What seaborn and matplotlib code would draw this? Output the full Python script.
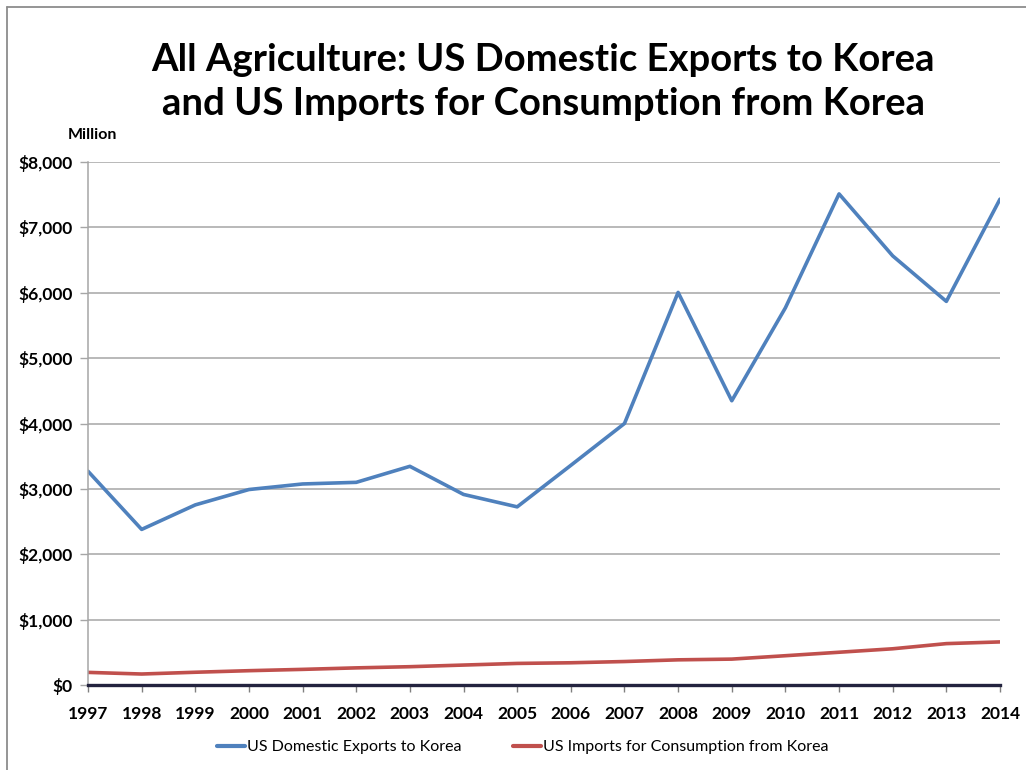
import matplotlib
matplotlib.use("Agg")
import matplotlib.pyplot as plt
from matplotlib.lines import Line2D
import seaborn as sns
import pandas as pd
from matplotlib.ticker import FuncFormatter

years = list(range(1997, 2015))
exports = [3270, 2380, 2755, 2990, 3075, 3100, 3345, 2915, 2725, 3360,
           4000, 6005, 4348, 5770, 7512, 6564, 5868, 7432]
imports = [193, 168, 195, 219, 239, 262, 280, 305, 330, 340,
           359, 385, 396, 448, 501, 554, 633, 659]
series_names = ["US Domestic Exports to Korea", "US Imports for Consumption from Korea"]
colors = ["#4F81BD", "#C0504D"]
title = "All Agriculture: US Domestic Exports to Korea\nand US Imports for Consumption from Korea"

df = pd.DataFrame({
    "Year": years * 2,
    "Value": exports + imports,
    "Series": [series_names[0]] * len(years) + [series_names[1]] * len(years),
})

sns.set_theme(style="white")
plt.rcParams['font.family'] = ['Lato', 'DejaVu Sans']
plt.rcParams['text.color'] = 'black'
plt.rcParams['xtick.color'] = 'black'
plt.rcParams['ytick.color'] = 'black'

fig = plt.figure(figsize=(10.26, 7.70), dpi=100)
ax = fig.add_axes([88/1026, 1-685/770, (1000-88)/1026, (685-162)/770])

sns.lineplot(data=df, x="Year", y="Value", hue="Series", palette=colors,
             linewidth=2.6, ax=ax, legend=True)

ax.set_xlim(1997, 2014)
ax.set_ylim(0, 8000)
ax.set_xticks(years)
ax.set_yticks(range(0, 8001, 1000))
ax.yaxis.set_major_formatter(FuncFormatter(lambda v, p: f"${int(v):,}"))
ax.grid(axis="y", color="#A6A6A6", linewidth=1.1)
ax.set_axisbelow(True)
ax.set_xlabel("")
ax.set_ylabel("")
for lbl in ax.get_xticklabels() + ax.get_yticklabels():
    lbl.set_fontweight("bold")
    lbl.set_fontsize(12.5)
    lbl.set_color("black")
ax.tick_params(axis="x", direction="out", length=5, width=1, color="#808080", pad=10, bottom=True)
ax.tick_params(axis="y", direction="out", length=6, width=1, color="#A6A6A6", pad=5, left=True)
ax.spines["top"].set_visible(False)
ax.spines["right"].set_visible(False)
ax.spines["left"].set_color("#A6A6A6")
ax.spines["left"].set_linewidth(1.1)
ax.spines["bottom"].set_color("#23233F")
ax.spines["bottom"].set_linewidth(2.4)

leg = ax.legend(loc="center", bbox_to_anchor=(523/1026, 1-747/770), bbox_transform=fig.transFigure,
                ncol=2, frameon=False, fontsize=11.5, handlelength=1.75, handletextpad=0.15,
                columnspacing=3.2)
for h in leg.get_lines():
    h.set_linewidth(3)
for t in leg.get_texts():
    t.set_color("black")

fig.text(543/1026, 1-82/770, title, ha="center", va="center", fontsize=27.5,
         fontweight="bold", linespacing=1.38, color="black")
fig.text(68/1026, 1-135/770, "Million", ha="left", va="center", fontsize=11.5,
         fontweight="bold", color="black")

fig.add_artist(Line2D([7/1026, 7/1026], [0, 1-7/770], transform=fig.transFigure,
                      color="#8C8C8C", linewidth=1.3))
fig.add_artist(Line2D([7/1026, 1], [1-7/770, 1-7/770], transform=fig.transFigure,
                      color="#8C8C8C", linewidth=1.3))

fig.savefig("out.png", dpi=100)
